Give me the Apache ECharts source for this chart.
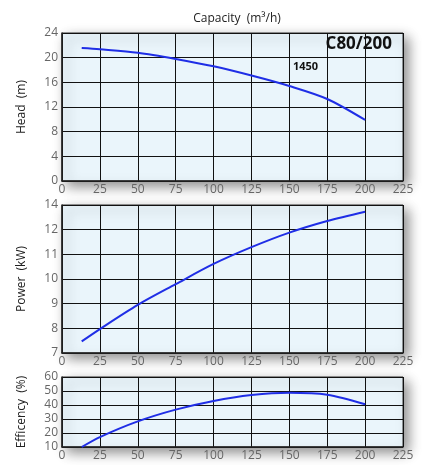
<!DOCTYPE html>
<html><head><meta charset="utf-8">
<script src="https://cdn.jsdelivr.net/npm/echarts@6/dist/echarts.min.js"></script>
<style>html,body{margin:0;padding:0;background:#fff}#c{width:422px;height:465px}</style>
</head><body><div id="c"></div>
<script>
var capacity = [13, 25, 50, 75, 100, 125, 150, 175, 200];
var head = [21.55, 21.35, 20.8, 19.8, 18.6, 17.1, 15.4, 13.3, 9.9];
var power = [7.47, 7.97, 8.95, 9.79, 10.61, 11.29, 11.88, 12.35, 12.73];
var efficiency = [10, 17.1, 28.3, 36.7, 42.9, 47.1, 48.8, 47.4, 40.5];
var xTicks = ["0","25","50","75","100","125","150","175","200","225"];
var headTicks = ["0","4","8","12","16","20","24"];
var powerTicks = ["7","8","9","10","11","12","14"];
var effTicks = ["10","20","30","40","50","60"];
var modelName = "C80/200";
var speedLabel = "1450";

function pairs(ys){ return capacity.map(function(x,i){return [x, ys[i]];}); }

var FONT = '"Open Sans", sans-serif';
var gridBase = {left:62, width:341, show:true, backgroundColor:'#eaf5fb', borderColor:'#333', borderWidth:1,
  shadowColor:'rgba(0,0,0,0.45)', shadowBlur:12, shadowOffsetX:5, shadowOffsetY:5};
function grid(top,h){ var g = Object.assign({}, gridBase); g.top = top; g.height = h; return g; }

function xAxis(i){
  return {type:'value', gridIndex:i, min:0, max:225, interval:25,
    axisLine:{show:true, lineStyle:{color:'#222', width:1.5}}, axisTick:{show:false},
    splitLine:{show:true, lineStyle:{color:'#111', width:1}},
    axisLabel:{color:'#666', fontSize:12, fontFamily:FONT, margin:3,
      formatter:function(v){ return xTicks[Math.round(v/25)]; }}};
}
function yAxis(i,min,max,interval,ticks,name){
  return {type:'value', gridIndex:i, min:min, max:max, interval:interval,
    name:name, nameLocation:'middle', nameGap:34, nameRotate:90,
    nameTextStyle:{color:'#222', fontSize:12, fontFamily:FONT},
    axisLine:{show:true, lineStyle:{color:'#222', width:1.5}}, axisTick:{show:false},
    splitLine:{show:true, lineStyle:{color:'#111', width:1}},
    axisLabel:{color:'#666', fontSize:12, fontFamily:FONT, margin:4,
      formatter:function(v){ return ticks[Math.round((v-min)/interval)]; }}};
}
function line(i, ys){
  return {type:'line', xAxisIndex:i, yAxisIndex:i, data:pairs(ys), smooth:0.3, showSymbol:false,
    lineStyle:{color:'#1f2ee6', width:2}, silent:true, animation:false};
}

var chart = echarts.init(document.getElementById('c'), null, {renderer:'canvas'});
chart.setOption({
  animation:false,
  backgroundColor:'#fff',
  title:{text:'Capacity  (m³/h)', left:232, top:8, textAlign:'center',
    textStyle:{color:'#222', fontSize:12, fontWeight:'normal', fontFamily:FONT}},
  grid:[grid(33,148), grid(205,148), grid(377,70)],
  xAxis:[xAxis(0), xAxis(1), xAxis(2)],
  yAxis:[yAxis(0,0,24,4,headTicks,'Head  (m)'),
         yAxis(1,7,13,1,powerTicks,'Power  (kW)'),
         yAxis(2,10,60,10,effTicks,'Efficency  (%)')],
  series:[line(0,head), line(1,power), line(2,efficiency)],
  graphic:[
    {type:'text', right:30, top:36, style:{text:modelName, fill:'#111', font:'bold 17px "Open Sans", sans-serif'}},
    {type:'text', left:293, top:61, style:{text:speedLabel, fill:'#111', font:'bold 11px "Open Sans", sans-serif'}}
  ]
});
</script></body></html>
